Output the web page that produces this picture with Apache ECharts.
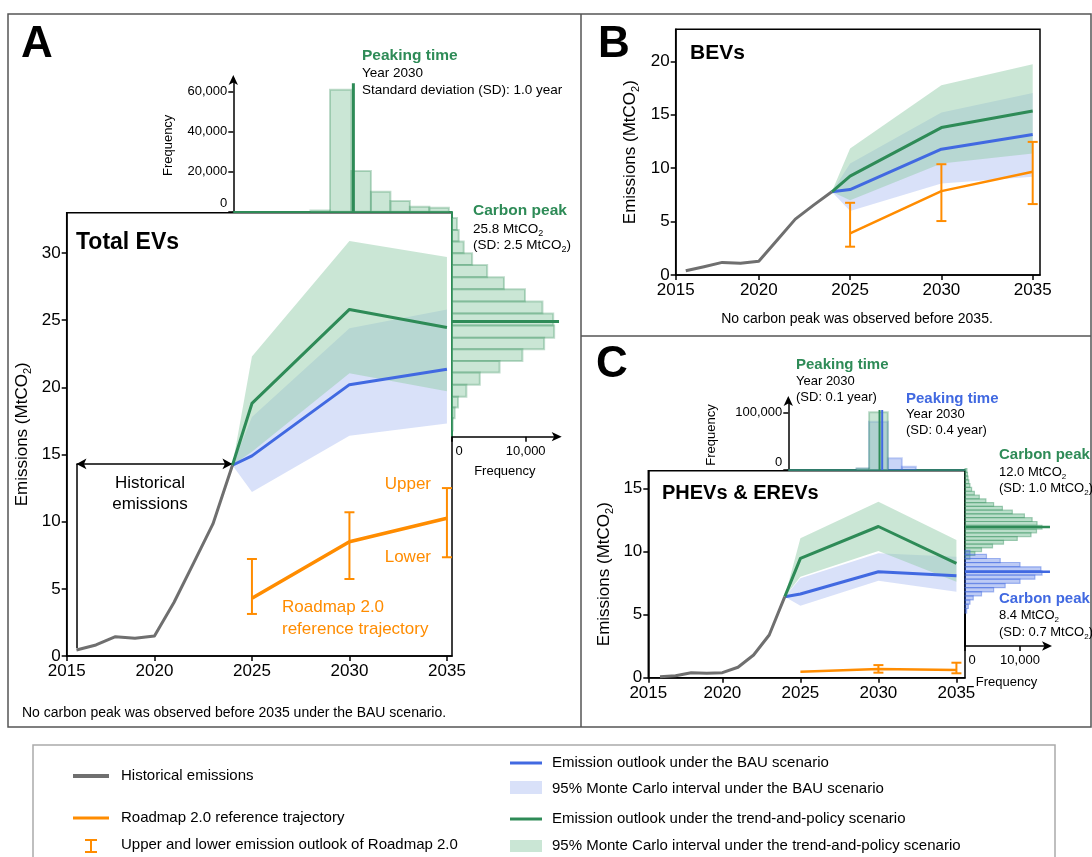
<!DOCTYPE html>
<html><head><meta charset="utf-8">
<script src="https://cdn.jsdelivr.net/npm/echarts@6/dist/echarts.min.js"></script>
<style>html,body{margin:0;padding:0;background:#fff}#c{width:1092px;height:857px}</style>
</head><body><div id="c"></div>
<script>
// ---------------- DATA ----------------
const histYears = [2016, 2017, 2018, 2019, 2020, 2021, 2022, 2023, 2024];
const fcYears = [2024, 2025, 2030, 2035];
const rmYears = [2025, 2030, 2035];

// Panel A: Total EVs
const histA = [0.45, 0.82, 1.44, 1.32, 1.49, 3.98, 6.9, 9.83, 14.2];
const bauA = [14.2, 14.9, 20.2, 21.35];
const bauA_lo = [14.2, 12.2, 16.4, 17.3];
const bauA_hi = [14.2, 17.8, 24.4, 25.8];
const tpA = [14.2, 18.8, 25.8, 24.45];
const tpA_lo = [14.2, 15.2, 21.05, 19.7];
const tpA_hi = [14.2, 22.3, 30.9, 29.7];
const rmA = [4.3, 8.5, 10.25];
const rmA_lo = [3.13, 5.73, 7.35];
const rmA_hi = [7.22, 10.7, 12.5];
// Panel A: peaking-time histogram (year bin edges, frequency)
const peakYearEdgesA = [2028, 2029, 2030.1, 2031.1, 2032.1, 2033.1, 2034.1, 2035.1];
const peakYearFreqA = [600, 61000, 20300, 10000, 5300, 2500, 2000];
const peakYearLineA = 2030.2, peakYearLineTopA = 64200;
// Panel A: carbon-peak histogram (emission bin edges top->bottom, frequency)
const peakEmEdgesA = [32.6, 31.72, 30.85, 29.98, 29.11, 28.2, 27.3, 26.4, 25.5, 24.6, 23.7, 22.84, 21.97, 21.1, 20.2, 19.31, 18.5, 17.7, 16.8];
const peakEmFreqA = [680, 910, 1590, 2730, 4770, 7050, 9900, 12270, 13730, 13860, 12500, 9550, 6450, 3770, 1950, 820, 360, 100];
const peakEmLineA = 24.9, peakEmLineLenA = 14520;

// Panel B: BEVs
const histB = [0.4, 0.78, 1.18, 1.09, 1.28, 3.25, 5.23, 6.54, 7.79];
const bauB = [7.79, 8.0, 11.78, 13.15];
const bauB_lo = [7.79, 6.0, 8.57, 9.19];
const bauB_hi = [7.79, 10.44, 15.2, 17.04];
const tpB = [7.79, 9.25, 13.8, 15.36];
const tpB_lo = [7.79, 7.0, 10.44, 11.37];
const tpB_hi = [7.79, 11.84, 17.76, 19.72];
const rmB = [3.9, 7.85, 9.66];
const rmB_lo = [2.65, 5.05, 6.64];
const rmB_hi = [6.76, 10.37, 12.46];

// Panel C: PHEVs & EREVs
const histC = [0.08, 0.16, 0.4, 0.35, 0.4, 0.83, 1.8, 3.39, 6.43];
const bauC = [6.43, 6.64, 8.41, 8.1];
const bauC_lo = [6.43, 5.71, 7.7, 6.83];
const bauC_hi = [6.43, 7.9, 9.87, 9.6];
const tpC = [6.43, 9.47, 12.0, 9.08];
const tpC_lo = [6.43, 8.02, 10.06, 7.62];
const tpC_hi = [6.43, 11.06, 13.97, 10.93];
const rmC = [0.48, 0.69, 0.61];
const rmC_lo = [null, 0.4, 0.35];
const rmC_hi = [null, 1.0, 1.19];
// Panel C: peaking-time histograms
const peakYearEdgesC_tp = [2028.6, 2029.4, 2030.6];
const peakYearFreqC_tp = [2500, 101000];
const peakYearEdgesC_bau = [2028.6, 2029.4, 2030.6, 2031.5, 2032.4];
const peakYearFreqC_bau = [2500, 84000, 20400, 5800];
const peakYearLineC_tp = 2030.07, peakYearLineC_bau = 2030.24, peakYearLineTopC = 104700;
// Panel C: carbon-peak histograms (bin centres, frequency)
const binWC_tp = 0.3;
const peakEmCentersC_tp = [16.45, 16.15, 15.85, 15.55, 15.25, 14.95, 14.65, 14.35, 14.05, 13.75, 13.45, 13.15, 12.85, 12.55, 12.25, 11.95, 11.65, 11.35, 11.05, 10.75, 10.45, 10.15, 9.85, 9.55];
const peakEmFreqC_tp = [350, 450, 550, 700, 900, 1200, 1700, 2600, 3800, 5200, 6800, 8600, 10800, 12200, 13100, 14000, 13000, 12000, 9500, 7000, 5000, 3000, 1800, 900];
const binWC_bau = 0.33;
const peakEmCentersC_bau = [9.95, 9.63, 9.3, 8.98, 8.64, 8.31, 7.99, 7.66, 7.31, 6.98, 6.67, 6.34, 6.0, 5.66, 5.3];
const peakEmFreqC_bau = [900, 3900, 6400, 10000, 13800, 14000, 12700, 10000, 7300, 5200, 3000, 1500, 900, 600, 300];
const peakEmLineC_tp = 11.96, peakEmLineC_bau = 8.41, peakEmLineLenC = 15450;

// ---------------- STYLE ----------------
const FONT = 'Liberation Sans';
const GRAY = '#6f6f6f', ORANGE = '#ff8c00', BLUE = '#4169e1', GREEN = '#2e8b57';
const BLUE_BAND = 'rgba(65,105,225,0.2)', GREEN_BAND = 'rgba(150,205,172,0.5)';
const HIST_G = 'rgba(150,205,172,0.5)', HIST_G_S = 'rgba(46,139,87,0.3)';
const HIST_B = 'rgba(65,105,225,0.28)', HIST_B_S = 'rgba(65,105,225,0.3)';

const fmtComma = v => Math.round(v).toLocaleString('en-US');
const pairs = (xs, ys) => xs.map((x, i) => [x, ys[i]]);

function grid(left, top, width, height, show) {
  return {left, top, width, height, show: !!show, borderColor: '#000', borderWidth: 1.5, backgroundColor: 'transparent', containLabel: false};
}
function mainX(gi, min, max, ticks) {
  return {gridIndex: gi, type: 'value', min, max,
    axisLine: {show: true, onZero: false, lineStyle: {color: '#000', width: 1.5}},
    axisTick: {show: true, customValues: ticks, length: 5, lineStyle: {color: '#000', width: 1.5}},
    axisLabel: {customValues: ticks, formatter: v => String(Math.floor(v)), fontSize: 17, color: '#000', fontFamily: FONT, margin: 7},
    splitLine: {show: false}};
}
function mainY(gi, max, ticks, gap) {
  return {gridIndex: gi, type: 'value', min: 0, max,
    axisLine: {show: true, onZero: false, lineStyle: {color: '#000', width: 1.5}},
    axisTick: {show: true, customValues: ticks, length: 5, lineStyle: {color: '#000', width: 1.5}},
    axisLabel: {customValues: ticks, fontSize: 17, color: '#000', fontFamily: FONT, margin: 6},
    splitLine: {show: false},
    name: 'Emissions (MtCO{s|2})', nameLocation: 'middle', nameRotate: 90, nameGap: gap,
    nameTextStyle: {fontSize: 17, color: '#000', fontFamily: FONT, lineHeight: 22,
      rich: {s: {fontSize: 11, fontFamily: FONT, color: '#000', verticalAlign: 'bottom', lineHeight: 22}}}};
}
function lineS(xi, yi, xs, ys, color, w, z) {
  return {type: 'line', xAxisIndex: xi, yAxisIndex: yi, data: pairs(xs, ys), showSymbol: false, symbol: 'none',
    lineStyle: {color, width: w, join: 'round'}, z: z || 5, silent: true, animation: false};
}
function bandS(xi, yi, xs, lo, hi, color, z) {
  return {type: 'custom', xAxisIndex: xi, yAxisIndex: yi, data: [[xs[0], lo[0]]], silent: true, clip: true, z: z || 2,
    renderItem: (p, api) => {
      const pts = [];
      xs.forEach((x, i) => pts.push(api.coord([x, hi[i]])));
      for (let i = xs.length - 1; i >= 0; i--) pts.push(api.coord([xs[i], lo[i]]));
      return {type: 'polygon', shape: {points: pts}, style: {fill: color}};
    }};
}
function errS(xi, yi, xs, lo, hi, w) {
  const data = [];
  xs.forEach((x, i) => { if (lo[i] != null && hi[i] != null) data.push([x, lo[i], hi[i]]); });
  return {type: 'custom', xAxisIndex: xi, yAxisIndex: yi, data, silent: true, clip: false, z: 7,
    encode: {x: 0, y: [1, 2]},
    renderItem: (p, api) => {
      const x = api.value(0), a = api.coord([x, api.value(2)]), b = api.coord([x, api.value(1)]);
      const st = {stroke: ORANGE, lineWidth: 2};
      return {type: 'group', children: [
        {type: 'line', shape: {x1: a[0], y1: a[1], x2: b[0], y2: b[1]}, style: st},
        {type: 'line', shape: {x1: a[0] - w, y1: a[1], x2: a[0] + w, y2: a[1]}, style: st},
        {type: 'line', shape: {x1: b[0] - w, y1: b[1], x2: b[0] + w, y2: b[1]}, style: st}]};
    }};
}
// vertical histogram bars (x = bin range, y = frequency)
function vHist(xi, yi, edges, freq, fill, stroke, z) {
  const data = freq.map((f, i) => [edges[i], edges[i + 1], f]);
  return {type: 'custom', xAxisIndex: xi, yAxisIndex: yi, data, silent: true, clip: true, z: z || 2,
    encode: {x: [0, 1], y: 2},
    renderItem: (p, api) => {
      const a = api.coord([api.value(0), api.value(2)]), b = api.coord([api.value(1), 0]);
      return {type: 'rect', shape: {x: a[0], y: a[1], width: b[0] - a[0], height: b[1] - a[1]},
        style: {fill, stroke, lineWidth: 2}};
    }};
}
// horizontal histogram bars (y = bin range, x = frequency)
function hHist(xi, yi, lows, highs, freq, fill, stroke, lw, z) {
  const data = freq.map((f, i) => [lows[i], highs[i], f]);
  return {type: 'custom', xAxisIndex: xi, yAxisIndex: yi, data, silent: true, clip: false, z: z || 2,
    encode: {x: 2, y: [0, 1]},
    renderItem: (p, api) => {
      const a = api.coord([api.value(2), api.value(1)]), b = api.coord([0, api.value(0)]);
      return {type: 'rect', shape: {x: b[0], y: a[1], width: a[0] - b[0], height: b[1] - a[1]},
        style: {fill, stroke, lineWidth: lw}};
    }};
}
function freqX(gi, max, nameGap) {
  return {gridIndex: gi, type: 'value', min: 0, max, position: 'bottom',
    axisLine: {show: true, onZero: false, symbol: ['none', 'arrow'], symbolSize: [7, 10], symbolOffset: [0, 4], lineStyle: {color: '#000', width: 1.5}},
    axisTick: {show: true, customValues: [0, 10000], length: 5, lineStyle: {color: '#000', width: 1.5}},
    axisLabel: {customValues: [0, 10000], formatter: v => v === 0 ? '{z|0}' : fmtComma(v), fontSize: 13, color: '#000', fontFamily: FONT, margin: 8,
      rich: {z: {fontSize: 13, color: '#000', fontFamily: FONT, padding: [0, 0, 0, 14]}}},
    splitLine: {show: false},
    name: 'Frequency', nameLocation: 'middle', nameGap, nameTextStyle: {fontSize: 13, color: '#000', fontFamily: FONT}};
}
function freqY(gi, max, ticks, nameGap) {
  return {gridIndex: gi, type: 'value', min: 0, max,
    axisLine: {show: true, onZero: false, symbol: ['none', 'arrow'], symbolSize: [7, 10], symbolOffset: [0, 4], lineStyle: {color: '#000', width: 1.5}},
    axisTick: {show: true, customValues: ticks, length: 5, lineStyle: {color: '#000', width: 1.5}},
    axisLabel: {customValues: ticks, formatter: v => v === 0 ? '{z|0}' : fmtComma(v), fontSize: 13, color: '#000', fontFamily: FONT, margin: 6,
      rich: {z: {fontSize: 13, color: '#000', fontFamily: FONT, padding: [0, 0, 16, 0]}}},
    splitLine: {show: false},
    name: 'Frequency', nameLocation: 'middle', nameRotate: 90, nameGap, nameTextStyle: {fontSize: 13, color: '#000', fontFamily: FONT}};
}
function hiddenAxis(gi, min, max, lineColor) {
  return {gridIndex: gi, type: 'value', min, max,
    axisLine: {show: !!lineColor, onZero: false, lineStyle: {color: lineColor || '#000', width: 2}},
    axisTick: {show: false}, axisLabel: {show: false}, splitLine: {show: false}};
}

// ---------------- GRAPHIC TEXT ----------------
function T(x, y, text, o) {
  o = o || {};
  return {type: 'text', x, y, silent: true, z: 100, style: {
    text, fill: o.color || '#000', fontSize: o.size || 14, fontWeight: o.bold ? 'bold' : 'normal', fontFamily: FONT,
    align: o.align || 'left', verticalAlign: 'middle', lineHeight: o.lh || undefined,
    rich: {s: {fontSize: Math.round((o.size || 14) * 0.65), fontFamily: FONT, fill: o.color || '#000', verticalAlign: 'bottom', lineHeight: (o.size || 14) + 5}}}};
}
function L(x1, y1, x2, y2, color, w) {
  return {type: 'line', silent: true, z: 100, shape: {x1, y1, x2, y2}, style: {stroke: color, lineWidth: w}};
}
function R(x, y, w, h, fill) {
  return {type: 'rect', silent: true, z: 100, shape: {x, y, width: w, height: h}, style: {fill}};
}

const graphics = [
  // figure frame
  {type: 'rect', silent: true, z: 0, shape: {x: 8, y: 14, width: 1083, height: 713}, style: {fill: 'none', stroke: '#555', lineWidth: 1.5}},
  L(581, 14, 581, 727, '#555', 1.5),
  L(581, 336, 1091, 336, '#555', 1.5),
  // legend box
  {type: 'rect', silent: true, z: 0, shape: {x: 33, y: 745, width: 1022, height: 130}, style: {fill: 'none', stroke: '#aaa', lineWidth: 1.5}},
  // panel A texts
  T(21, 45, 'A', {size: 44, bold: true}),
  T(362, 56, 'Peaking time', {size: 15.5, bold: true, color: GREEN}),
  T(362, 73, 'Year 2030', {size: 13.5}),
  T(362, 90, 'Standard deviation (SD): 1.0 year', {size: 13.5}),
  T(473, 211, 'Carbon peak', {size: 15.5, bold: true, color: GREEN}),
  T(473, 229, '25.8 MtCO{s|2}', {size: 13.5}),
  T(473, 245, '(SD: 2.5 MtCO{s|2})', {size: 13.5}),
  T(76, 243, 'Total EVs', {size: 23, bold: true}),
  T(150, 483, 'Historical', {size: 17, align: 'center'}),
  T(150, 504, 'emissions', {size: 17, align: 'center'}),
  T(431, 484, 'Upper', {size: 17, align: 'right', color: ORANGE}),
  T(431, 557, 'Lower', {size: 17, align: 'right', color: ORANGE}),
  T(282, 607, 'Roadmap 2.0', {size: 17, color: ORANGE}),
  T(282, 629, 'reference trajectory', {size: 17, color: ORANGE}),
  T(22, 713, 'No carbon peak was observed before 2035 under the BAU scenario.', {size: 14}),
  // panel B texts
  T(598, 45, 'B', {size: 44, bold: true}),
  T(690, 53, 'BEVs', {size: 21, bold: true}),
  T(857, 319, 'No carbon peak was observed before 2035.', {size: 14, align: 'center'}),
  // panel C texts
  T(596, 365, 'C', {size: 44, bold: true}),
  T(796, 365, 'Peaking time', {size: 15, bold: true, color: GREEN}),
  T(796, 381, 'Year 2030', {size: 13}),
  T(796, 397, '(SD: 0.1 year)', {size: 13}),
  T(906, 399, 'Peaking time', {size: 15, bold: true, color: BLUE}),
  T(906, 414, 'Year 2030', {size: 13}),
  T(906, 430, '(SD: 0.4 year)', {size: 13}),
  T(999, 455, 'Carbon peak', {size: 15, bold: true, color: GREEN}),
  T(999, 472, '12.0 MtCO{s|2}', {size: 13}),
  T(999, 488, '(SD: 1.0 MtCO{s|2})', {size: 13}),
  T(999, 599, 'Carbon peak', {size: 15, bold: true, color: BLUE}),
  T(999, 615, '8.4 MtCO{s|2}', {size: 13}),
  T(999, 632, '(SD: 0.7 MtCO{s|2})', {size: 13}),
  T(662, 493, 'PHEVs & EREVs', {size: 20, bold: true}),
  // legend
  L(73, 776, 109, 776, GRAY, 4),
  T(121, 776, 'Historical emissions', {size: 15}),
  L(73, 818, 109, 818, ORANGE, 3),
  T(121, 818, 'Roadmap 2.0 reference trajectory', {size: 15}),
  L(91, 840, 91, 852, ORANGE, 2), L(85, 840, 97, 840, ORANGE, 2), L(85, 852, 97, 852, ORANGE, 2),
  T(121, 845, 'Upper and lower emission outlook of Roadmap 2.0', {size: 15}),
  L(510, 763, 542, 763, BLUE, 3),
  T(552, 763, 'Emission outlook under the BAU scenario', {size: 15}),
  R(510, 781, 32, 13, BLUE_BAND),
  T(552, 789, '95% Monte Carlo interval under the BAU scenario', {size: 15}),
  L(510, 819, 542, 819, GREEN, 3),
  T(552, 819, 'Emission outlook under the trend-and-policy scenario', {size: 15}),
  R(510, 840, 32, 12, GREEN_BAND),
  T(552, 846, '95% Monte Carlo interval under the trend-and-policy scenario', {size: 15})
];

// ---------------- AXES / GRIDS ----------------
// 0: A main, 1: A top hist, 2: A right hist, 3: B main, 4: C main, 5: C top hist, 6: C right hist
const grids = [
  grid(66.7, 212.7, 385.3, 443.3, true),
  grid(233.3, 79, 218.7, 132.7),
  grid(452, 212.7, 105.7, 224),
  grid(675.7, 29.3, 364.3, 245.7, true),
  grid(648.3, 470.7, 316.7, 207, true),
  grid(788.3, 400, 176.7, 70),
  grid(965, 470.7, 83, 175.3)
];
const xAxes = [
  mainX(0, 2015.5, 2035.26, [2015.5, 2020, 2025, 2030, 2035]),
  hiddenAxis(1, 2024.04, 2035.26, GREEN),
  freqX(2, 14340, 28),
  mainX(3, 2015.45, 2035.4, [2015.45, 2020, 2025, 2030, 2035]),
  mainX(4, 2015.25, 2035.55, [2015.25, 2020, 2025, 2030, 2035]),
  hiddenAxis(5, 2024.22, 2035.55, '#2f7b6a'),
  freqX(6, 15090, 30)
];
const yAxes = [
  mainY(0, 33, [0, 5, 10, 15, 20, 25, 30], 33),
  freqY(1, 66350, [0, 20000, 40000, 60000], 58),
  hiddenAxis(2, 16.33, 33, GREEN),
  mainY(3, 23, [0, 5, 10, 15, 20], 34),
  mainY(4, 16.43, [0, 5, 10, 15], 33),
  freqY(5, 122160, [0, 100000], 70),
  hiddenAxis(6, 2.52, 16.43, '#000')
];

// ---------------- SERIES ----------------
const series = [];
function panel(gi, hist, bau, bauLo, bauHi, tp, tpLo, tpHi, rm, rmLo, rmHi, errW, rmW) {
  series.push(bandS(gi, gi, fcYears, bauLo, bauHi, BLUE_BAND, 2));
  series.push(bandS(gi, gi, fcYears, tpLo, tpHi, GREEN_BAND, 3));
  series.push(lineS(gi, gi, fcYears, bau, BLUE, 3, 5));
  series.push(lineS(gi, gi, fcYears, tp, GREEN, 3, 6));
  series.push(lineS(gi, gi, histYears, hist, GRAY, 3, 7));
  series.push(lineS(gi, gi, rmYears, rm, ORANGE, rmW, 8));
  series.push(errS(gi, gi, rmYears, rmLo, rmHi, errW));
}
panel(0, histA, bauA, bauA_lo, bauA_hi, tpA, tpA_lo, tpA_hi, rmA, rmA_lo, rmA_hi, 5, 3.5);
panel(3, histB, bauB, bauB_lo, bauB_hi, tpB, tpB_lo, tpB_hi, rmB, rmB_lo, rmB_hi, 5, 2.5);
panel(4, histC, bauC, bauC_lo, bauC_hi, tpC, tpC_lo, tpC_hi, rmC, rmC_lo, rmC_hi, 5, 2.5);

// historical-emissions bracket in A
series.push({type: 'line', xAxisIndex: 0, yAxisIndex: 0, data: [], silent: true, z: 9,
  markLine: {silent: true, animation: false, symbol: ['arrow', 'arrow'], symbolSize: [8, 10], label: {show: false},
    lineStyle: {color: '#000', width: 1.5, type: 'solid'},
    data: [
      [{coord: [2016, 14.3]}, {coord: [2024, 14.3]}],
      [{coord: [2016, 14.3], symbol: 'none'}, {coord: [2016, 0.6], symbol: 'none'}]
    ]}});

// A histograms
series.push(vHist(1, 1, peakYearEdgesA, peakYearFreqA, HIST_G, HIST_G_S, 2));
series.push(lineS(1, 1, [peakYearLineA, peakYearLineA], [0, peakYearLineTopA], GREEN, 3, 6));
series.push(hHist(2, 2, peakEmEdgesA.slice(1), peakEmEdgesA.slice(0, -1), peakEmFreqA, HIST_G, HIST_G_S, 2, 2));
series.push({type: 'line', xAxisIndex: 2, yAxisIndex: 2, data: [[0, peakEmLineA], [peakEmLineLenA, peakEmLineA]], showSymbol: false,
  lineStyle: {color: GREEN, width: 3}, z: 6, silent: true, clip: false});

// C histograms
series.push(vHist(5, 5, peakYearEdgesC_bau, peakYearFreqC_bau, HIST_B, HIST_B_S, 2));
series.push(vHist(5, 5, peakYearEdgesC_tp, peakYearFreqC_tp, HIST_G, HIST_G_S, 3));
series.push(lineS(5, 5, [peakYearLineC_tp, peakYearLineC_tp], [0, peakYearLineTopC], GREEN, 2, 6));
series.push(lineS(5, 5, [peakYearLineC_bau, peakYearLineC_bau], [0, peakYearLineTopC], BLUE, 2, 6));
series.push(hHist(6, 6, peakEmCentersC_tp.map(c => c - binWC_tp / 2), peakEmCentersC_tp.map(c => c + binWC_tp / 2), peakEmFreqC_tp, 'rgba(130,195,158,0.55)', 'rgba(46,139,87,0.4)', 1.2, 2));
series.push(hHist(6, 6, peakEmCentersC_bau.map(c => c - binWC_bau / 2), peakEmCentersC_bau.map(c => c + binWC_bau / 2), peakEmFreqC_bau, 'rgba(65,105,225,0.35)', 'rgba(65,105,225,0.45)', 1.2, 3));
series.push({type: 'line', xAxisIndex: 6, yAxisIndex: 6, data: [[0, peakEmLineC_tp], [peakEmLineLenC, peakEmLineC_tp]], showSymbol: false,
  lineStyle: {color: GREEN, width: 2.5}, z: 6, silent: true, clip: false});
series.push({type: 'line', xAxisIndex: 6, yAxisIndex: 6, data: [[0, peakEmLineC_bau], [peakEmLineLenC, peakEmLineC_bau]], showSymbol: false,
  lineStyle: {color: BLUE, width: 2.5}, z: 6, silent: true, clip: false});

const chart = echarts.init(document.getElementById('c'), null, {renderer: 'canvas'});
chart.setOption({
  animation: false,
  backgroundColor: '#fff',
  textStyle: {fontFamily: FONT},
  grid: grids, xAxis: xAxes, yAxis: yAxes, series, graphic: graphics
});
</script></body></html>
